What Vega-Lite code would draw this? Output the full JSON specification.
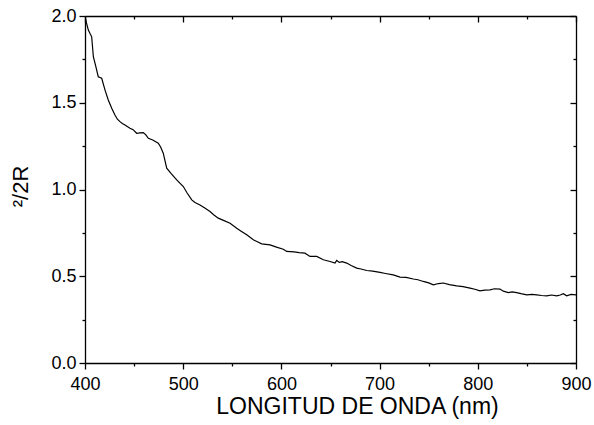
{
  "$schema": "https://vega.github.io/schema/vega-lite/v6.json",
  "width": 491,
  "height": 347,
  "autosize": {"type": "none"},
  "padding": {"left": 85, "top": 16, "right": 18, "bottom": 62},
  "background": "white",
  "data": {
    "values": [
      {"nm": 400.0, "v": 2.0},
      {"nm": 401.5, "v": 1.96},
      {"nm": 403.4, "v": 1.919},
      {"nm": 405.0, "v": 1.90},
      {"nm": 406.8, "v": 1.880},
      {"nm": 408.5, "v": 1.765},
      {"nm": 411.0, "v": 1.71},
      {"nm": 413.5, "v": 1.650},
      {"nm": 417.0, "v": 1.641},
      {"nm": 420.4, "v": 1.573},
      {"nm": 423.7, "v": 1.516},
      {"nm": 427.2, "v": 1.468},
      {"nm": 430.5, "v": 1.429},
      {"nm": 433.0, "v": 1.405},
      {"nm": 435.6, "v": 1.391},
      {"nm": 438.0, "v": 1.38},
      {"nm": 440.7, "v": 1.372},
      {"nm": 445.8, "v": 1.353},
      {"nm": 449.0, "v": 1.345},
      {"nm": 452.6, "v": 1.324},
      {"nm": 456.0, "v": 1.326},
      {"nm": 459.4, "v": 1.328},
      {"nm": 462.0, "v": 1.315},
      {"nm": 464.5, "v": 1.295},
      {"nm": 469.0, "v": 1.285},
      {"nm": 474.6, "v": 1.267},
      {"nm": 477.0, "v": 1.245},
      {"nm": 479.7, "v": 1.209},
      {"nm": 483.2, "v": 1.123},
      {"nm": 488.0, "v": 1.09},
      {"nm": 493.4, "v": 1.055},
      {"nm": 500.1, "v": 1.017},
      {"nm": 504.0, "v": 0.98},
      {"nm": 508.7, "v": 0.940},
      {"nm": 512.0, "v": 0.925},
      {"nm": 517.1, "v": 0.911},
      {"nm": 522.0, "v": 0.893},
      {"nm": 527.3, "v": 0.873},
      {"nm": 531.0, "v": 0.855},
      {"nm": 535.7, "v": 0.835},
      {"nm": 541.0, "v": 0.822},
      {"nm": 547.7, "v": 0.806},
      {"nm": 554.5, "v": 0.777},
      {"nm": 559.0, "v": 0.760},
      {"nm": 564.7, "v": 0.739},
      {"nm": 571.4, "v": 0.710},
      {"nm": 575.0, "v": 0.700},
      {"nm": 579.9, "v": 0.687},
      {"nm": 588.4, "v": 0.681},
      {"nm": 595.0, "v": 0.668},
      {"nm": 601.9, "v": 0.656},
      {"nm": 605.4, "v": 0.643},
      {"nm": 613.0, "v": 0.640},
      {"nm": 618.0, "v": 0.636},
      {"nm": 624.0, "v": 0.633},
      {"nm": 629.1, "v": 0.614},
      {"nm": 636.0, "v": 0.614},
      {"nm": 642.7, "v": 0.595},
      {"nm": 649.5, "v": 0.585},
      {"nm": 654.6, "v": 0.576},
      {"nm": 656.3, "v": 0.591},
      {"nm": 659.0, "v": 0.580},
      {"nm": 662.0, "v": 0.584},
      {"nm": 666.5, "v": 0.576},
      {"nm": 671.0, "v": 0.562},
      {"nm": 676.7, "v": 0.547},
      {"nm": 681.0, "v": 0.542},
      {"nm": 686.9, "v": 0.533},
      {"nm": 693.0, "v": 0.530},
      {"nm": 700.4, "v": 0.522},
      {"nm": 706.0, "v": 0.516},
      {"nm": 713.9, "v": 0.508},
      {"nm": 720.8, "v": 0.495},
      {"nm": 727.0, "v": 0.493},
      {"nm": 734.3, "v": 0.484},
      {"nm": 739.0, "v": 0.480},
      {"nm": 744.5, "v": 0.470},
      {"nm": 750.0, "v": 0.462},
      {"nm": 754.7, "v": 0.451},
      {"nm": 760.0, "v": 0.458},
      {"nm": 764.9, "v": 0.461},
      {"nm": 771.0, "v": 0.452},
      {"nm": 778.5, "v": 0.445},
      {"nm": 785.0, "v": 0.440},
      {"nm": 792.1, "v": 0.432},
      {"nm": 797.0, "v": 0.425},
      {"nm": 802.2, "v": 0.416},
      {"nm": 807.0, "v": 0.420},
      {"nm": 812.4, "v": 0.422},
      {"nm": 817.0, "v": 0.428},
      {"nm": 822.6, "v": 0.426},
      {"nm": 826.0, "v": 0.414},
      {"nm": 831.1, "v": 0.406},
      {"nm": 835.0, "v": 0.410},
      {"nm": 839.6, "v": 0.406},
      {"nm": 844.0, "v": 0.400},
      {"nm": 849.8, "v": 0.393},
      {"nm": 855.0, "v": 0.396},
      {"nm": 860.0, "v": 0.393},
      {"nm": 865.0, "v": 0.389},
      {"nm": 870.2, "v": 0.387},
      {"nm": 875.0, "v": 0.392},
      {"nm": 880.3, "v": 0.387},
      {"nm": 884.0, "v": 0.392},
      {"nm": 887.1, "v": 0.399},
      {"nm": 890.5, "v": 0.387},
      {"nm": 895.0, "v": 0.395},
      {"nm": 900.0, "v": 0.393}
    ]
  },
  "layer": [
    {
      "mark": {"type": "line", "color": "black", "strokeWidth": 1.2, "clip": true},
      "encoding": {
        "x": {"field": "nm", "type": "quantitative",
          "scale": {"domain": [400, 900], "nice": false, "zero": false},
          "axis": {"orient": "bottom", "values": [400, 500, 600, 700, 800, 900], "format": "d",
            "title": "LONGITUD DE ONDA (nm)", "tickSize": 6, "labelPadding": 6, "titlePadding": 2,
            "titleFontSize": 23, "titleX": 272}},
        "y": {"field": "v", "type": "quantitative",
          "scale": {"domain": [0, 2], "nice": false, "zero": false},
          "axis": {"orient": "left", "values": [0, 0.5, 1, 1.5, 2], "format": ".1f",
            "title": "²/2R", "tickSize": 6, "labelPadding": 3, "titlePadding": 18, "titleFontSize": 22,
            "titleY": 170}}
      }
    },
    {
      "mark": {"type": "line", "strokeOpacity": 0},
      "encoding": {
        "x": {"field": "nm", "type": "quantitative",
          "axis": {"orient": "top", "values": [400, 500, 600, 700, 800, 900], "labels": false, "title": null, "tickSize": -6}},
        "y": {"field": "v", "type": "quantitative",
          "axis": {"orient": "right", "values": [0, 0.5, 1, 1.5, 2], "labels": false, "title": null, "tickSize": -6}}
      }
    },
    {
      "mark": {"type": "line", "strokeOpacity": 0},
      "encoding": {
        "x": {"field": "nm", "type": "quantitative",
          "axis": {"orient": "bottom", "values": [450, 550, 650, 750, 850], "labels": false, "title": null, "tickSize": 3, "domain": false}},
        "y": {"field": "v", "type": "quantitative",
          "axis": {"orient": "left", "values": [0.25, 0.75, 1.25, 1.75], "labels": false, "title": null, "tickSize": 3, "domain": false}}
      }
    },
    {
      "mark": {"type": "line", "strokeOpacity": 0},
      "encoding": {
        "x": {"field": "nm", "type": "quantitative",
          "axis": {"orient": "top", "values": [450, 550, 650, 750, 850], "labels": false, "title": null, "tickSize": -3, "domain": false}},
        "y": {"field": "v", "type": "quantitative",
          "axis": {"orient": "right", "values": [0.25, 0.75, 1.25, 1.75], "labels": false, "title": null, "tickSize": -3, "domain": false}}
      }
    }
  ],
  "resolve": {"axis": {"x": "independent", "y": "independent"}},
  "config": {
    "view": {"stroke": null},
    "axis": {
      "grid": false,
      "domainColor": "black",
      "domainWidth": 1.3,
      "tickColor": "black",
      "tickWidth": 1.3,
      "labelColor": "black",
      "labelFont": "Liberation Sans",
      "labelFontSize": 18,
      "labelFlush": false,
      "labelOverlap": false,
      "labelBound": false,
      "titleFont": "Liberation Sans",
      "titleFontSize": 22,
      "titleFontWeight": "normal",
      "titleColor": "black"
    }
  }
}
